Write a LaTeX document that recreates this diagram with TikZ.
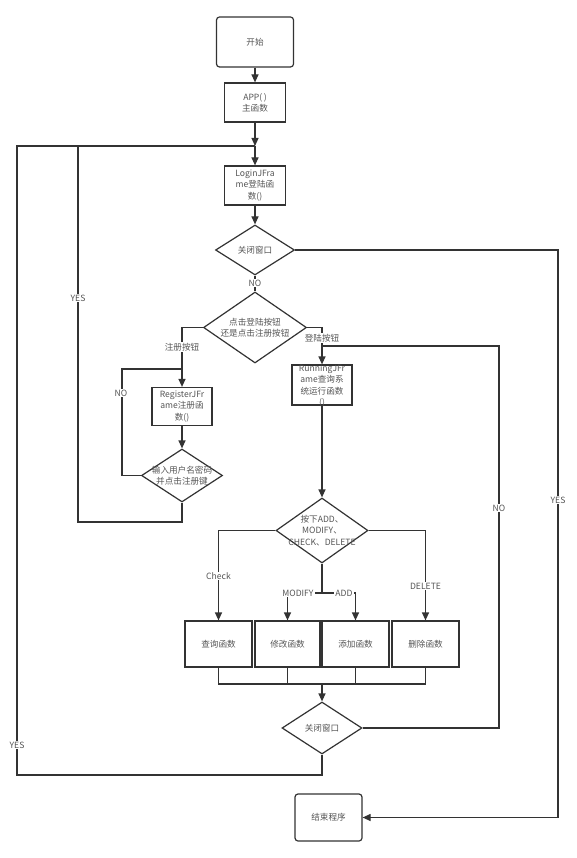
\documentclass[tikz,border=0pt]{standalone}
\usepackage{fontspec}
\setmainfont{Noto Sans CJK SC}
\usetikzlibrary{shapes.geometric,arrows.meta}
\definecolor{lc}{HTML}{333333}
\definecolor{tc}{HTML}{555555}
\newcommand\fsz{\fontsize{8.6}{11.3}\selectfont}
\begin{document}
\begin{tikzpicture}[x=1pt,y=-1pt,
 ln/.style={draw=lc,line width=1.2pt},
 arr/.style={ln,-{Triangle[length=8pt,width=7pt]}},
 shp/.style={draw=lc,line width=1.2pt,fill=white,inner sep=0pt},
 rbox/.style={shp,rectangle},
 rnd/.style={shp,rectangle,rounded corners=3pt},
 dia/.style={shp,diamond},
 txt/.style={inner sep=0pt,align=center,text=tc,font=\fsz},
 lbl/.style={fill=white,inner sep=1pt,text=tc,font=\fsz},
]
\useasboundingbox[fill=white] (0,0) rectangle (576,858);

% nodes
\node[rnd,minimum width=77pt,minimum height=50pt] (start) at (255,42) {};
\node[txt] (startt) at (start) {开始};
\node[rbox,minimum width=61pt,minimum height=39pt] (app) at (255,102.5) {};
\node[txt] (appt) at (app) {APP(\,)\\主函数};
\coordinate (j1) at (255,146);
\node[rbox,minimum width=61pt,minimum height=39pt] (login) at (255,185.5) {};
\node[txt] (logint) at (login) {LoginJFra\\me登陆函\\数()};
\node[dia,minimum width=79pt,minimum height=50pt] (d1) at (255,250) {};
\node[txt] (d1t) at (d1) {关闭窗口};
\node[dia,minimum width=103pt,minimum height=71pt] (d2) at (255,327.5) {};
\node[txt] (d2t) at (d2) {点击登陆按钮\\还是点击注册按钮};
\node[rbox,minimum width=60pt,minimum height=38pt] (reg) at (182,406.5) {};
\node[txt] (regt) at (reg) {RegisterJFr\\ame注册函\\数()};
\node[dia,minimum width=81pt,minimum height=53pt] (d3) at (182,475.5) {};
\node[txt] (d3t) at (d3) {输入用户名密码\\并点击注册键};
\node[rbox,minimum width=60pt,minimum height=40pt] (run) at (322,385) {};
\node[txt] (runt) at (322,386) {RunningJFr\\ame查询系\\统运行函数\\()};
\node[dia,minimum width=92pt,minimum height=65pt] (d4) at (322,530.5) {};
\node[txt] (d4t) at (d4) {按下ADD、\\MODIFY、\\CHECK、DELETE};
\node[rbox,minimum width=67pt,minimum height=46pt] (q) at (218.5,644) {};
\node[txt] (qt) at (q) {查询函数};
\node[rbox,minimum width=65pt,minimum height=46pt] (m) at (287.5,644) {};
\node[txt] (mt) at (m) {修改函数};
\node[rbox,minimum width=67pt,minimum height=46pt] (a) at (355.5,644) {};
\node[txt] (at) at (a) {添加函数};
\node[rbox,minimum width=67pt,minimum height=46pt] (del) at (425.5,644) {};
\node[txt] (delt) at (del) {删除函数};
\node[dia,minimum width=80pt,minimum height=52pt] (d5) at (322,728) {};
\node[txt] (d5t) at (d5) {关闭窗口};
\node[rnd,minimum width=67pt,minimum height=47pt] (end) at (328.5,817.5) {};
\node[txt] (endt) at (end) {结束程序};

\coordinate (k1) at (182,369);
\coordinate (k2) at (322,346);
\coordinate (j2) at (322,593);
\coordinate (j3) at (322,684);

% connectors
\draw[arr] (start) -- (app);
\draw[arr] (app) -- (j1);
\draw[arr] (j1) -- (login);
\draw[arr] (login) -- (d1);
\draw[ln] (d1) -- (d2);
\draw[arr] (d2.west) -| (reg.north);
\draw[arr] (d2.east) -| (run.north);
\draw[arr] (reg) -- (d3);
\draw[ln] (d3.west) -- (122,475.5) -- (122,369) -- (k1);
\draw[ln] (d3.south) -- (182,522) -- (78,522) -- (78,146) -- (j1);
\draw[arr] (d1.east) -- (558,250) |- (end.east);
\draw[arr] (run) -- (d4);
\draw[arr] (d4.west) -| (q.north);
\draw[arr] (d4.east) -| (del.north);
\draw[ln] (d4.south) -- (j2);
\draw[arr] (j2) -| (m.north);
\draw[arr] (j2) -| (a.north);
\draw[ln] (q.south) -- (q.south |- j3) -- (del.south |- j3) -- (del.south);
\draw[ln] (m.south) -- (m.south |- j3);
\draw[ln] (a.south) -- (a.south |- j3);
\draw[arr] (j3) -- (d5);
\draw[ln] (d5.east) -- (499,728) -- (499,346) -- (k2);
\draw[ln] (d5.south) -- (322,775) -- (17,775) -- (17,146) -- (j1);

% labels
\node[lbl] (lno1) at (255,283) {NO};
\node[lbl] (lzc) at (182,347) {注册按钮};
\node[lbl] (ldl) at (322,338) {登陆按钮};
\node[lbl] (lno2) at (121,393) {NO};
\node[lbl] (lyes1) at (78,298) {YES};
\node[lbl] (lyes2) at (558,500) {YES};
\node[lbl] (lck) at (218.5,576) {Check};
\node[lbl] (lde) at (425.5,586) {DELETE};
\node[lbl] (lmo) at (298,593) {MODIFY};
\node[lbl] (lad) at (344,593) {ADD};
\node[lbl] (lno3) at (499,508) {NO};
\node[lbl] (lyes3) at (17,745) {YES};
\end{tikzpicture}
\end{document}
